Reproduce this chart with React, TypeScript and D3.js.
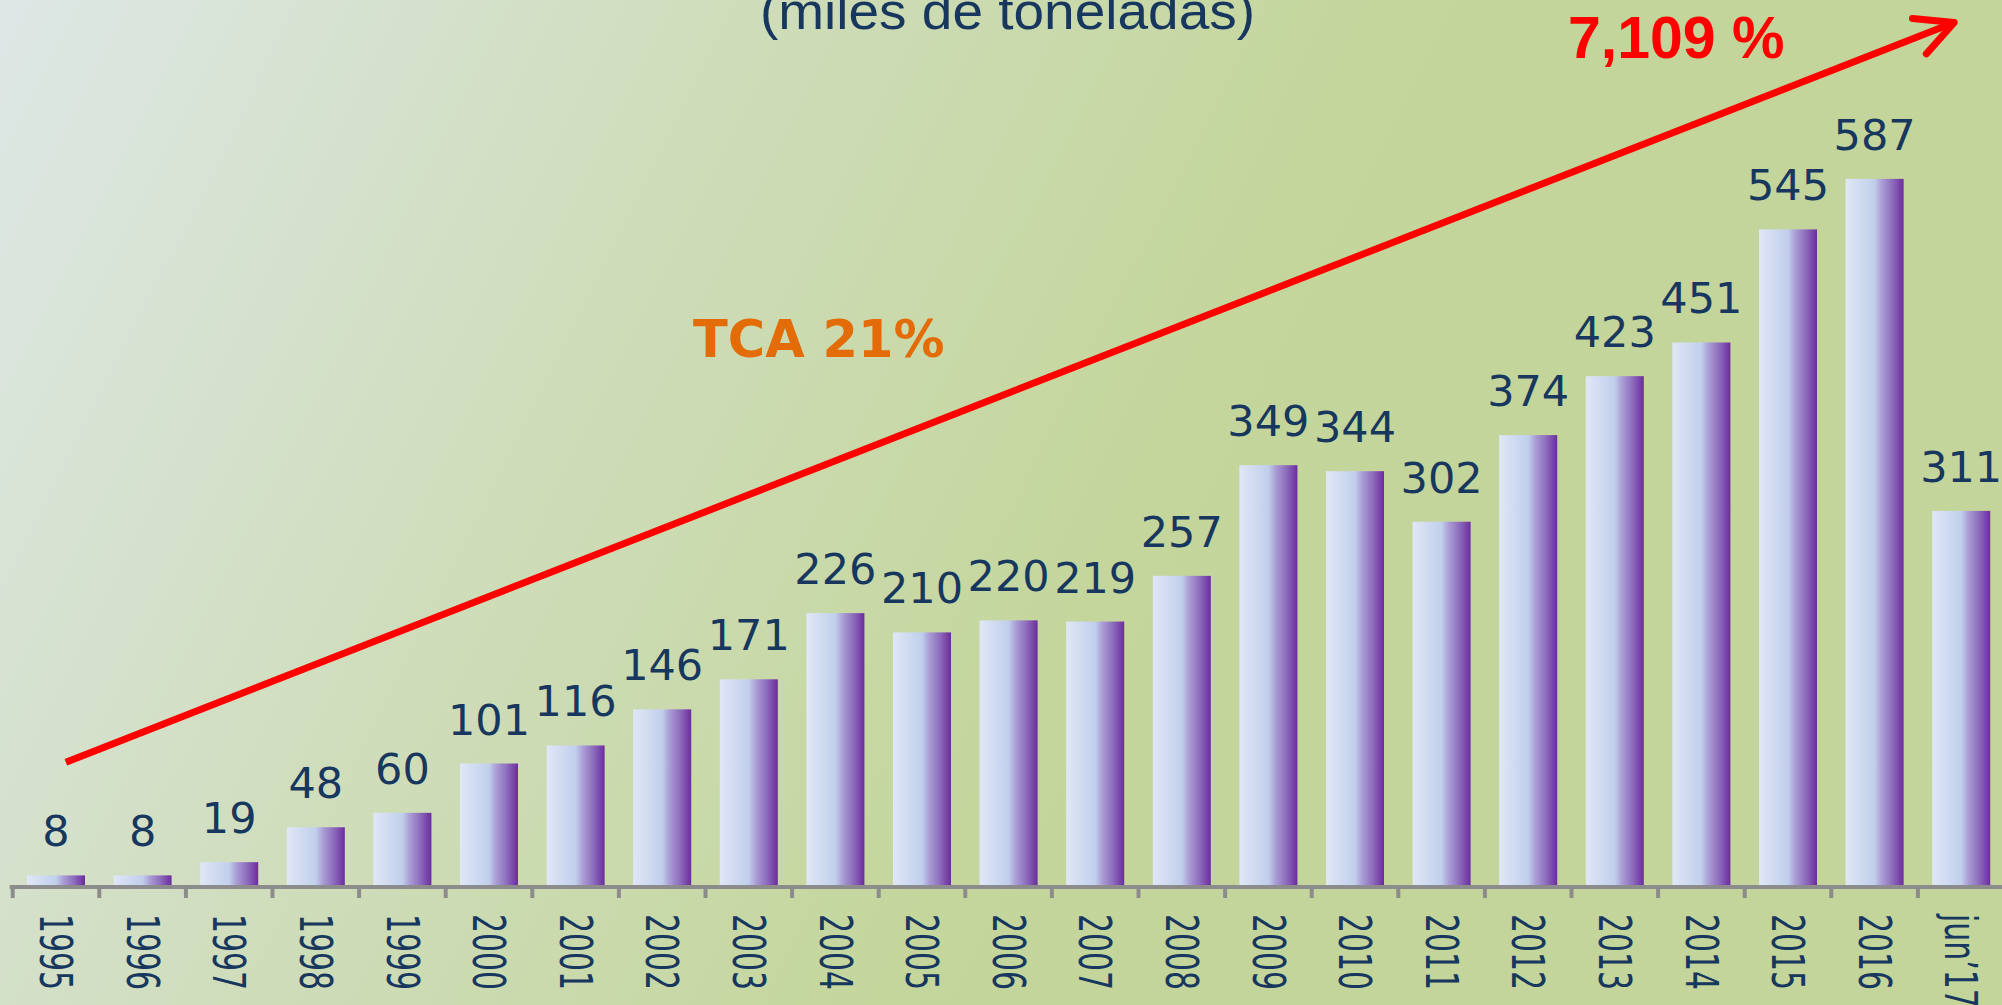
import React from "react";
import * as d3 from "d3";

const categories = [
  "1995", "1996", "1997", "1998", "1999", "2000", "2001", "2002", "2003", "2004", "2005", "2006",
  "2007", "2008", "2009", "2010", "2011", "2012", "2013", "2014", "2015", "2016", "jun\u201917",
];
const values = [8, 8, 19, 48, 60, 101, 116, 146, 171, 226, 210, 220, 219, 257, 349, 344, 302, 374, 423, 451, 545, 587, 311];

const title = "(miles de toneladas)";
const growthLabel = "7,109 %";
const cagrLabel = "TCA 21%";
// trend arrow ends, in data units
const trendStart = { category: "1995", value: 102 };
const trendEnd = { category: "jun\u201917", value: 717 };

const width = 2002;
const height = 1005;
const baseY = 885;
const navy = "#17375e";

const App = () => {
  const x = d3
    .scaleBand()
    .domain(categories)
    .range([12.7, 12.7 + 86.6 * categories.length])
    .paddingInner(0.33)
    .paddingOuter(0.165);
  const y = d3.scaleLinear().domain([0, 735.7]).range([baseY, 0]);
  const step = x.step();
  const x0 = x.range()[0];

  // arrow geometry
  const sx = (x(trendStart.category) as number) + x.bandwidth() * 0.67;
  const sy = y(trendStart.value);
  const ex = (x(trendEnd.category) as number) + x.bandwidth() * 0.38;
  const ey = y(trendEnd.value);
  const ang = Math.atan2(sy - ey, sx - ex);
  const armLen = 42;
  const spread = (27 * Math.PI) / 180;
  const a1 = [ex + armLen * Math.cos(ang + spread), ey + armLen * Math.sin(ang + spread)];
  const a2 = [ex + armLen * Math.cos(ang - spread), ey + armLen * Math.sin(ang - spread)];

  return (
    <svg
      width={width}
      height={height}
      style={{ position: "absolute", left: 0, top: 0, display: "block" }}
    >
      <defs>
        <linearGradient id="bg" gradientUnits="userSpaceOnUse" x1={0} y1={0} x2={1300} y2={650}>
          <stop offset="0" stopColor="#dee7e6" />
          <stop offset="0.45" stopColor="#cfddbb" />
          <stop offset="0.85" stopColor="#c4d69c" />
          <stop offset="1" stopColor="#c3d59a" />
        </linearGradient>
        <linearGradient id="bar" x1="0" y1="0" x2="1" y2="0">
          <stop offset="0" stopColor="#e0e7f6" />
          <stop offset="0.5" stopColor="#c1cfec" />
          <stop offset="0.62" stopColor="#ab9fd6" />
          <stop offset="0.8" stopColor="#8e6ebd" />
          <stop offset="1" stopColor="#6c2c9e" />
        </linearGradient>
      </defs>
      <rect x={0} y={0} width={width} height={height} fill="url(#bg)" />

      <text
        x={760}
        y={29}
        fontFamily="Liberation Sans, Arial, sans-serif"
        fontSize={52}
        fill={navy}
        textLength={495}
        lengthAdjust="spacingAndGlyphs"
      >
        {title}
      </text>

      {/* bars */}
      {values.map((v, i) => (
        <rect
          key={categories[i]}
          x={x(categories[i])}
          y={y(v)}
          width={x.bandwidth()}
          height={baseY - y(v)}
          fill="url(#bar)"
        />
      ))}

      {/* value labels */}
      {values.map((v, i) => (
        <text
          key={"v" + categories[i]}
          x={(x(categories[i]) as number) + x.bandwidth() / 2}
          y={y(v) - 29}
          textAnchor="middle"
          fontFamily="DejaVu Sans, Verdana, sans-serif"
          fontSize={43}
          fill={navy}
        >
          {v}
        </text>
      ))}

      {/* axis */}
      <line x1={x0 - 3} x2={width} y1={baseY + 2} y2={baseY + 2} stroke="#8c8c8c" strokeWidth={4} />
      {d3.range(categories.length + 1).map((i) => (
        <line
          key={"t" + i}
          x1={x0 + i * step}
          x2={x0 + i * step}
          y1={baseY}
          y2={baseY + 13}
          stroke="#8c8c8c"
          strokeWidth={4}
        />
      ))}
      {categories.map((c) => (
        <text
          key={"l" + c}
          transform={`translate(${(x(c) as number) + x.bandwidth() / 2},914) rotate(90) scale(0.68,1)`}
          dy="0.36em"
          fontFamily="DejaVu Sans, Verdana, sans-serif"
          fontSize={44}
          fill={navy}
        >
          {c}
        </text>
      ))}

      {/* trend arrow */}
      <line x1={sx} y1={sy} x2={ex} y2={ey} stroke="#ff0000" strokeWidth={7} />
      <path
        d={`M${a1[0]},${a1[1]}L${ex},${ey}L${a2[0]},${a2[1]}`}
        fill="none"
        stroke="#ff0000"
        strokeWidth={7}
        strokeLinecap="round"
        strokeLinejoin="round"
      />
      <text
        x={1568}
        y={58}
        fontFamily="Liberation Sans, Arial, sans-serif"
        fontWeight="bold"
        fontSize={59}
        fill="#ff0000"
      >
        {growthLabel}
      </text>
      <text
        x={693}
        y={357}
        fontFamily="DejaVu Sans, Verdana, sans-serif"
        fontWeight="bold"
        fontSize={51}
        fill="#e36c09"
      >
        {cagrLabel}
      </text>
    </svg>
  );
};

export default App;
